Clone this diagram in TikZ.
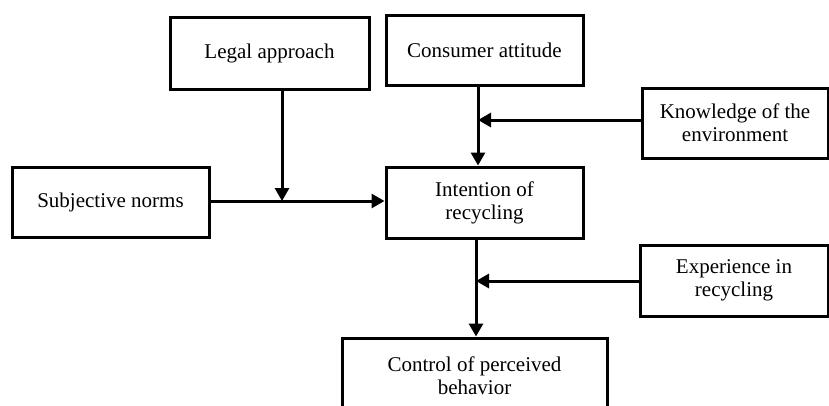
\documentclass[tikz,border=0pt]{standalone}
\usepackage{fontspec}
\setmainfont{Liberation Serif}
\usetikzlibrary{arrows.meta, positioning}

\begin{document}
\begin{tikzpicture}[x=1pt, y=-1pt, line width=3pt,
  box/.style={draw, rectangle, align=center, inner sep=0pt,
    font=\fontsize{21}{23}\selectfont},
  flow/.style={-{Triangle[length=13pt, width=14pt]}}]
  \clip (0,0) rectangle (829,405);

  \node[box, minimum width=199pt, minimum height=72pt] (legal) at (269.5,53) {Legal approach};
  \node[box, minimum width=197pt, minimum height=70pt] (consumer) at (484.5,50) {Consumer attitude};
  \node[box, minimum width=186pt, minimum height=70pt] (know) at (735,123) {Knowledge of the\\environment};
  \node[box, minimum width=197pt, minimum height=70pt] (subj) at (110.5,202) {Subjective norms};
  \node[box, minimum width=197pt, minimum height=71pt] (intent) at (484.5,202.5) {Intention of\\recycling};
  \node[box, minimum width=188pt, minimum height=71pt] (exper) at (734,280.5) {Experience in\\recycling};
  \node[box, minimum width=265pt, minimum height=76pt] (control) at (474.5,376) {Control of perceived\\behavior};

  \coordinate (j1) at (282,201);
  \coordinate (j2) at (478,120);
  \coordinate (j3) at (476,281);

  \draw[flow] (subj.east |- j1) -- (intent.west |- j1);
  \draw[flow] (legal.south -| j1) -- (j1);
  \draw[flow] (consumer.south -| j2) -- (intent.north -| j2);
  \draw[flow] (know.west |- j2) -- (j2);
  \draw[flow] (intent.south -| j3) -- (control.north -| j3);
  \draw[flow] (exper.west |- j3) -- (j3);
\end{tikzpicture}
\end{document}
